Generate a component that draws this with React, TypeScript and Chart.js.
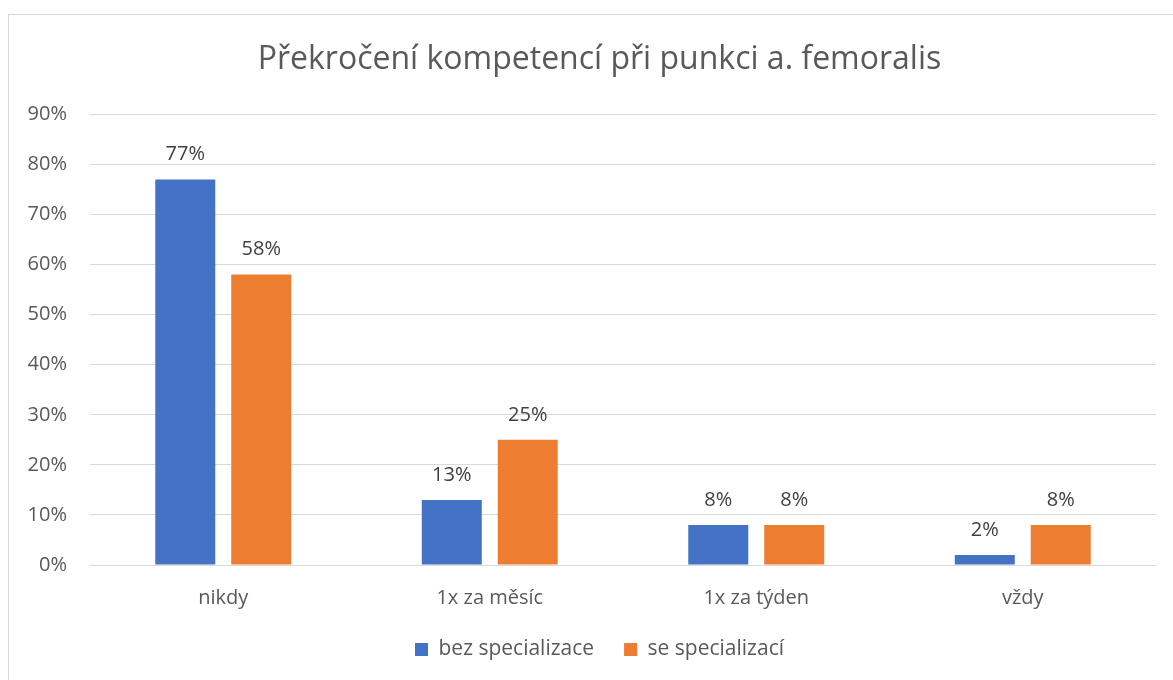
import React, { useEffect, useRef } from "react";
import { Chart, registerables } from "chart.js";

Chart.register(...registerables);

const TITLE = "Překročení kompetencí při punkci a. femoralis";
const CATEGORIES = ["nikdy", "1x za měsíc", "1x za týden", "vždy"];
const SERIES_NAMES = ["bez specializace", "se specializací"];
const BEZ_SPECIALIZACE = [77, 13, 8, 2];
const SE_SPECIALIZACI = [58, 25, 8, 8];
const SERIES_COLORS = ["#4472C4", "#ED7D31"];
const Y_MAX = 90;
const Y_STEP = 10;

const FONT = "'Open Sans', 'Liberation Sans', sans-serif";
const CANVAS_W = 1181;
const CANVAS_H = 665;
const PLOT_RIGHT = 1147;

const dataLabelPlugin = {
  id: "dataLabels",
  afterDatasetsDraw(chart: any) {
    const ctx = chart.ctx;
    ctx.save();
    ctx.font = `20px ${FONT}`;
    ctx.fillStyle = "#404040";
    ctx.textAlign = "center";
    ctx.textBaseline = "middle";
    chart.data.datasets.forEach((ds: any, i: number) => {
      const meta = chart.getDatasetMeta(i);
      meta.data.forEach((bar: any, j: number) => {
        ctx.fillText(ds.data[j] + "%", bar.x, bar.y - 25);
      });
    });
    ctx.restore();
  },
};

export default function App() {
  const ref = useRef<HTMLCanvasElement | null>(null);
  useEffect(() => {
    if (!ref.current) return;
    const chart = new Chart(ref.current, {
      type: "bar",
      data: {
        labels: CATEGORIES,
        datasets: [
          { label: SERIES_NAMES[0], data: BEZ_SPECIALIZACE, backgroundColor: SERIES_COLORS[0] },
          { label: SERIES_NAMES[1], data: SE_SPECIALIZACI, backgroundColor: SERIES_COLORS[1] },
        ],
      },
      options: {
        responsive: false,
        animation: false,
        datasets: { bar: { categoryPercentage: 0.57, barPercentage: 0.79 } },
        layout: { padding: { left: 0, right: 0, top: 0, bottom: 10 } },
        plugins: {
          title: {
            display: true,
            text: TITLE,
            color: "#595959",
            font: { family: FONT, size: 32, weight: "normal" },
            padding: { top: 26, bottom: 35 },
          },
          legend: {
            position: "bottom",
            labels: {
              color: "#595959",
              font: { family: FONT, size: 21 },
              boxWidth: 13,
              boxHeight: 13,
              padding: 30,
            },
          },
          tooltip: { enabled: false },
        },
        scales: {
          x: {
            grid: { display: false },
            border: { display: false },
            ticks: { color: "#595959", font: { family: FONT, size: 20 }, padding: 13 },
            afterFit: (scale: any) => {
              scale.height = 44;
            },
          },
          y: {
            min: 0,
            max: Y_MAX,
            ticks: {
              stepSize: Y_STEP,
              color: "#595959",
              font: { family: FONT, size: 20 },
              padding: 23,
              callback: (v: any) => v + "%",
            },
            grid: { color: "#d9d9d9", drawTicks: false, lineWidth: 1 },
            border: { display: false },
            afterFit: (scale: any) => {
              scale.width = 81;
            },
          },
          yRight: {
            type: "linear",
            position: "right",
            display: true,
            grid: { display: false, drawTicks: false },
            border: { display: false },
            ticks: { display: false },
            afterFit: (scale: any) => {
              scale.width = CANVAS_W - PLOT_RIGHT;
            },
          },
        },
      },
      plugins: [dataLabelPlugin],
    });
    return () => chart.destroy();
  }, []);

  return (
    <div
      style={{
        position: "absolute",
        left: 0,
        top: 0,
        width: 1173,
        height: 680,
        overflow: "hidden",
      }}
    >
      <div
        style={{
          position: "absolute",
          left: 8,
          top: 14,
          width: CANVAS_W + 1,
          height: CANVAS_H + 1,
          borderTop: "1px solid #d9d9d9",
          borderLeft: "1px solid #d9d9d9",
          background: "#fff",
        }}
      >
        <canvas ref={ref} width={CANVAS_W} height={CANVAS_H} style={{ display: "block" }} />
      </div>
    </div>
  );
}
